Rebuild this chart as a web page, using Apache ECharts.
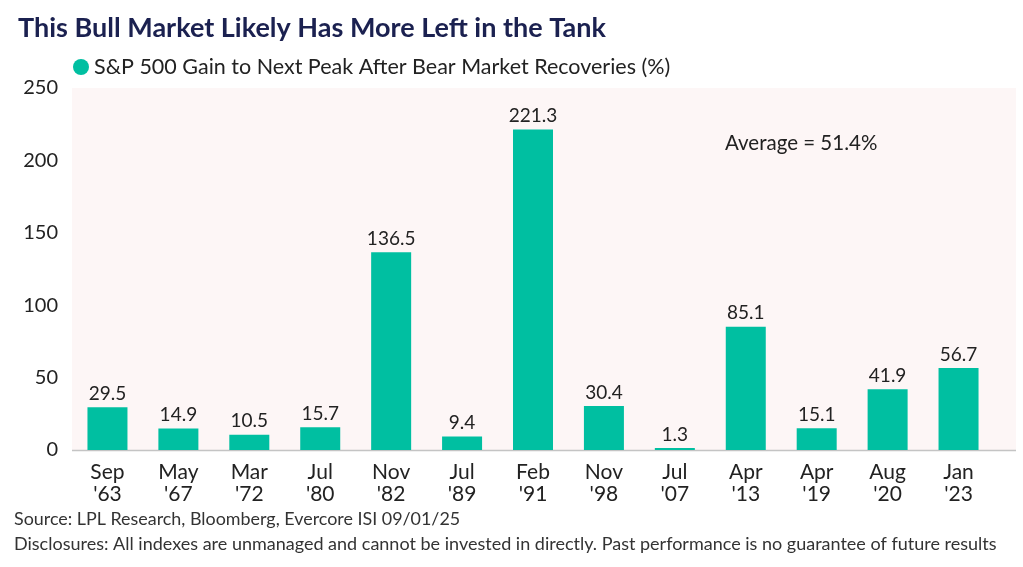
<!DOCTYPE html>
<html><head><meta charset="utf-8">
<script src="https://cdn.jsdelivr.net/npm/echarts@6/dist/echarts.min.js"></script>
<style>html,body{margin:0;padding:0;background:#fff}#c{width:1023px;height:567px}</style>
</head><body><div id="c"></div>
<script>
const categories = ["Sep\n'63","May\n'67","Mar\n'72","Jul\n'80","Nov\n'82","Jul\n'89","Feb\n'91","Nov\n'98","Jul\n'07","Apr\n'13","Apr\n'19","Aug\n'20","Jan\n'23"];
const gains = [29.5,14.9,10.5,15.7,136.5,9.4,221.3,30.4,1.3,85.1,15.1,41.9,56.7];
const yTicks = [0,50,100,150,200,250];
const seriesName = "S&P 500 Gain to Next Peak After Bear Market Recoveries (%)";
const titleText = "This Bull Market Likely Has More Left in the Tank";
const averageText = "Average = 51.4%";
const sourceText = "Source: LPL Research, Bloomberg, Evercore ISI 09/01/25";
const discText = "Disclosures: All indexes are unmanaged and cannot be invested in directly. Past performance is no guarantee of future results";

const F = "Lato, 'Open Sans', sans-serif";
const chart = echarts.init(document.getElementById('c'));
chart.setOption({
  animation:false,
  backgroundColor:'#fff',
  title:{text:titleText,left:13,top:10,textStyle:{fontFamily:F,fontSize:27,fontWeight:'bold',color:'#1b2150'}},
  legend:{left:68,top:51,icon:'circle',itemWidth:16,itemHeight:16,itemGap:6,
    textStyle:{fontFamily:F,fontSize:21.5,color:'#222'},data:[seriesName]},
  graphic:[
    {type:'rect',z:-10,shape:{x:72,y:88,width:944,height:362},style:{fill:'#fdf6f6'}},
    {type:'line',z:-5,shape:{x1:72,y1:450.5,x2:1016,y2:450.5},style:{stroke:'#c4c4c4',lineWidth:1.5}},
    {type:'text',left:725,top:133,style:{text:averageText,font:'20.5px '+F,fill:'#222'}},
    {type:'text',left:14,top:510,style:{text:sourceText,font:'17.9px '+F,fill:'#333'}},
    {type:'text',left:14,top:535,style:{text:discText,font:'18px '+F,fill:'#333'}}
  ],
  grid:{left:72,right:29,top:88,bottom:117},
  xAxis:{type:'category',data:categories,axisLine:{show:false},axisTick:{show:false},
    axisLabel:{fontFamily:F,fontSize:21,color:'#222',lineHeight:22,margin:11}},
  yAxis:{type:'value',min:0,max:250,interval:50,splitLine:{show:false},axisLine:{show:false},axisTick:{show:false},
    axisLabel:{fontFamily:F,fontSize:20,color:'#222',margin:14,
      customValues:yTicks}},
  series:[{name:seriesName,type:'bar',data:gains,barWidth:40,
    itemStyle:{color:'#00bfa1'},
    label:{show:true,position:'top',distance:4,fontFamily:F,fontSize:19,color:'#222'}}]
});
</script></body></html>
